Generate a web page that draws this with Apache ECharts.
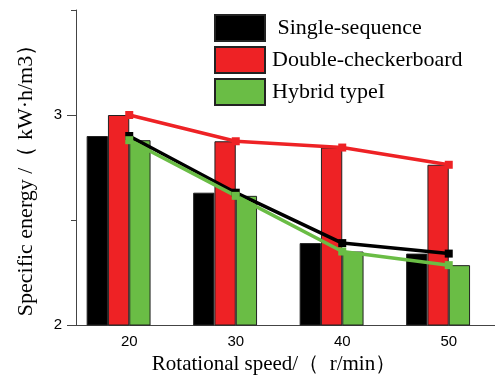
<!DOCTYPE html>
<html><head><meta charset="utf-8">
<script src="https://cdn.jsdelivr.net/npm/echarts@6/dist/echarts.min.js"></script>
<style>html,body{margin:0;padding:0;background:#fff}#c{width:495px;height:377px}</style>
</head><body><div id="c"></div>
<script>
const categories = ['20', '30', '40', '50'];
const singleSeq = [2.90, 2.63, 2.39, 2.34];
const doubleChk = [3.00, 2.875, 2.845, 2.763];
const hybrid = [2.88, 2.615, 2.35, 2.285];
const yMajorTicks = [2, 3];
const yMinorTicks = [2.5, 3.5];

const serif = '"Liberation Serif","Times New Roman",serif';
const sans = '"Liberation Sans",Arial,sans-serif';
const cBlack = '#000000', cRed = '#ee2225', cGreen = '#6abd45';

const chart = echarts.init(document.getElementById('c'), null, {renderer: 'canvas'});
function bar(name, data, color) {
  return {name, type: 'bar', data, barGap: '0%', barCategoryGap: '20%',
    itemStyle: {color, borderColor: '#222', borderWidth: 1}, z: 2};
}
function line(name, data, color) {
  return {name: name + '_l', type: 'line', data, symbol: 'rect', symbolSize: 8,
    lineStyle: {color, width: 3.5}, itemStyle: {color}, z: 5};
}
chart.setOption({
  animation: false,
  grid: {left: 76, width: 426, top: 10, bottom: 52, containLabel: false, outerBoundsMode: 'none'},
  legend: {orient: 'vertical', left: 209, top: 9, itemWidth: 50, itemHeight: 26, itemGap: 4,
    icon: 'rect',
    data: ['Single-sequence', 'Double-checkerboard', 'Hybrid typeI'],
    formatter: n => n === 'Single-sequence' ? ' ' + n : n,
    textStyle: {fontFamily: serif, fontSize: 22, color: '#000', padding: [0, 0, 0, 2]}},
  xAxis: {type: 'category', data: categories,
    axisLine: {lineStyle: {color: '#444', width: 1}},
    axisTick: {inside: true, length: 3, lineStyle: {color: '#444'}},
    axisLabel: {fontFamily: sans, fontSize: 15, color: '#000', margin: 9}},
  yAxis: [{type: 'value', min: 2, max: 3.5, interval: 0.5,
    axisLine: {show: true, lineStyle: {color: '#444', width: 1}},
    axisTick: {show: true, length: 9, customValues: yMajorTicks, lineStyle: {color: '#444'}},
    axisLabel: {fontFamily: sans, fontSize: 15, color: '#000', margin: 14, customValues: yMajorTicks},
    splitLine: {show: false}},
   {type: 'value', min: 2, max: 3.5, interval: 0.5, position: 'left',
    axisLine: {show: false},
    axisTick: {show: true, length: 5, customValues: yMinorTicks, lineStyle: {color: '#444'}},
    axisLabel: {show: false}, splitLine: {show: false}}],
  graphic: [
    {type: 'text', x: 274, y: 364,
      style: {text: 'Rotational speed/（  r/min）', font: '21px ' + serif, fill: '#000',
        align: 'center', verticalAlign: 'middle'}},
    {type: 'text', x: 26, y: 175, rotation: Math.PI / 2,
      style: {text: 'Specific energy /（ kW·h/m3）', font: '22px ' + serif, fill: '#000',
        align: 'center', verticalAlign: 'middle'}}
  ],
  series: [
    bar('Single-sequence', singleSeq, cBlack),
    bar('Double-checkerboard', doubleChk, cRed),
    bar('Hybrid typeI', hybrid, cGreen),
    {name: 'spacer', type: 'bar', data: categories.map(() => null), barGap: '0%', barCategoryGap: '20%'},
    line('Double-checkerboard', doubleChk, cRed),
    line('Single-sequence', singleSeq, cBlack),
    line('Hybrid typeI', hybrid, cGreen)
  ]
});
</script></body></html>
